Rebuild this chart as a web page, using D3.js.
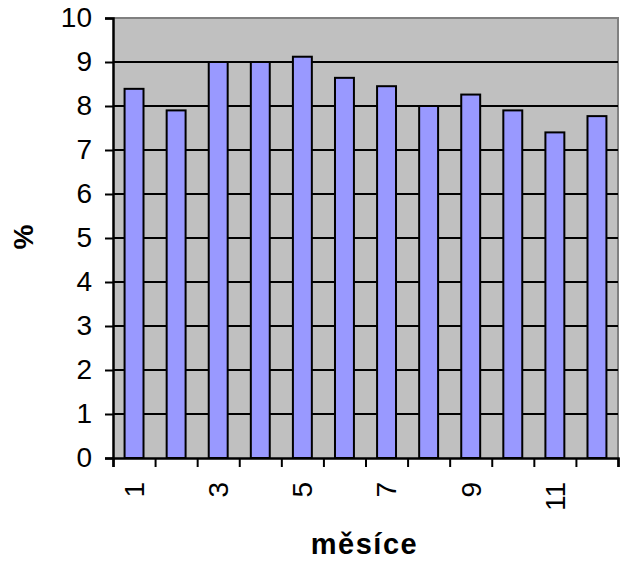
<!DOCTYPE html>
<html>
<head>
<meta charset="utf-8">
<script src="https://cdn.jsdelivr.net/npm/d3@7"></script>
<style>
  body { margin: 0; background: #fff; }
  svg { display: block; font-family: "Liberation Sans", Arial, sans-serif; }
</style>
</head>
<body>
<div id="chart"></div>
<script>
// months and monthly share (%)
const months = [1, 2, 3, 4, 5, 6, 7, 8, 9, 10, 11, 12];
const values = [8.39, 7.9, 9.0, 9.0, 9.12, 8.64, 8.45, 8.0, 8.26, 7.9, 7.4, 7.77];
const yTicks = [0, 1, 2, 3, 4, 5, 6, 7, 8, 9, 10];
const xLabels = ["1", "", "3", "", "5", "", "7", "", "9", "", "11", ""];

const width = 625, height = 561;
const margin = {top: 18, right: 7, bottom: 103, left: 113};
const w = width - margin.left - margin.right;
const h = height - margin.top - margin.bottom;

const svg = d3.select("#chart").append("svg")
    .attr("width", width)
    .attr("height", height);

const g = svg.append("g")
    .attr("transform", `translate(${margin.left},${margin.top})`);

const x = d3.scaleBand()
    .domain(months)
    .range([0, w])
    .paddingInner(0.55)
    .paddingOuter(0.275);

// band edges for the tick marks
const xEdge = d3.scaleLinear().domain([0, months.length]).range([0, w]);

const y = d3.scaleLinear().domain([0, 10]).range([h, 0]);

// plot background
g.append("rect")
    .attr("width", w)
    .attr("height", h)
    .attr("fill", "#c0c0c0");

// top and right border
g.append("path")
    .attr("d", `M0,0H${w}V${h}`)
    .attr("fill", "none")
    .attr("stroke", "#808080")
    .attr("stroke-width", 2);

// gridlines
g.append("g")
    .selectAll("line")
    .data(yTicks.slice(1, -1))
    .enter().append("line")
    .attr("x1", 0)
    .attr("x2", w)
    .attr("y1", d => y(d))
    .attr("y2", d => y(d))
    .attr("stroke", "#000")
    .attr("stroke-width", 2);

// bars
g.append("g")
    .selectAll("rect")
    .data(values)
    .enter().append("rect")
    .attr("x", (d, i) => x(months[i]))
    .attr("y", d => y(d))
    .attr("width", x.bandwidth())
    .attr("height", d => h - y(d))
    .attr("fill", "#9999ff")
    .attr("stroke", "#000")
    .attr("stroke-width", 2);

// y axis
const yAxis = g.append("g")
    .call(d3.axisLeft(y).tickValues(yTicks).tickSize(8).tickPadding(13));
yAxis.select(".domain").attr("stroke-width", 2.5);
yAxis.selectAll(".tick line").attr("stroke-width", 2);
yAxis.selectAll("text")
    .attr("font-size", 28)
    .attr("font-family", "Liberation Sans, Arial, sans-serif")
    .attr("fill", "#000");

// x axis tick marks at band edges
const xAxis = g.append("g")
    .attr("transform", `translate(0,${h})`)
    .call(d3.axisBottom(xEdge).tickValues(d3.range(months.length + 1)).tickSize(9).tickFormat(""));
xAxis.select(".domain").attr("stroke-width", 2.5);
xAxis.selectAll(".tick line").attr("stroke-width", 2);

// x labels, rotated
const xLab = g.append("g")
    .attr("transform", `translate(0,${h})`)
    .call(d3.axisBottom(x).tickSize(0).tickFormat((d, i) => xLabels[i]));
xLab.select(".domain").remove();
xLab.selectAll("text")
    .attr("font-size", 28)
    .attr("font-family", "Liberation Sans, Arial, sans-serif")
    .attr("fill", "#000")
    .attr("text-anchor", "end")
    .attr("dy", "0.35em")
    .attr("transform", "translate(0,24) rotate(-90)")
    .attr("x", 0)
    .attr("y", 0);

// axis titles
svg.append("text")
    .attr("transform", "translate(33,237) rotate(-90)")
    .attr("text-anchor", "middle")
    .attr("font-size", 28)
    .attr("font-weight", "bold")
    .text("%");

svg.append("text")
    .attr("x", margin.left + w / 2 - 1)
    .attr("y", 554)
    .attr("text-anchor", "middle")
    .attr("font-size", 29)
    .attr("font-weight", "bold")
    .attr("letter-spacing", 1.5)
    .text("měsíce");
</script>
</body>
</html>
